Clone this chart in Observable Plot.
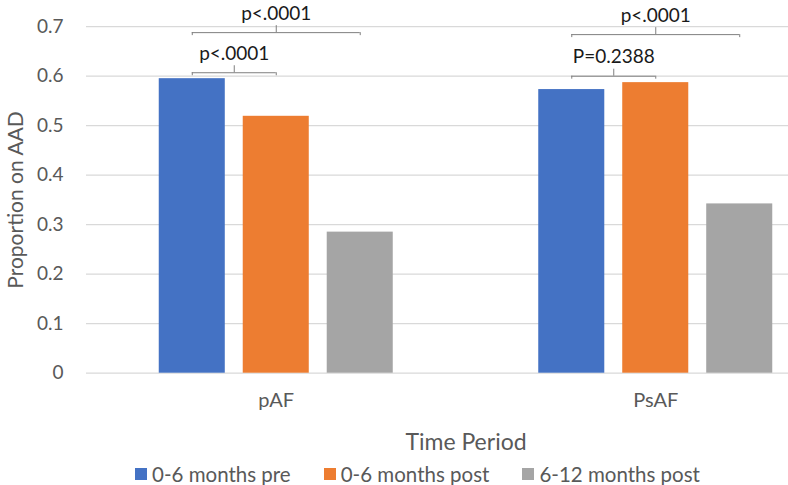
<!DOCTYPE html>
<html><head><meta charset="utf-8">
<script src="https://cdn.jsdelivr.net/npm/d3@7"></script>
<script src="https://cdn.jsdelivr.net/npm/@observablehq/plot@0.6"></script>
<style>
html,body{margin:0;padding:0;background:#fff;overflow:hidden;}
body{width:788px;height:485px;font-family:Lato,sans-serif;}
#legend{display:flex;align-items:center;height:38px;padding-left:135px;font-size:20.5px;color:#595959;}
#legend .item{display:flex;align-items:center;margin-right:33px;}
#legend .sw{width:12px;height:12px;margin-right:5px;}
</style></head><body>
<div id="chart"></div>
<div id="legend"></div>
<script>
const categories = ["pAF", "PsAF"];
const series = ["0-6 months pre", "0-6 months post", "6-12 months post"];
const valuesPre = [0.595, 0.573];
const valuesPost6 = [0.519, 0.587];
const valuesPost12 = [0.285, 0.342];
const yTicks = [0, 0.1, 0.2, 0.3, 0.4, 0.5, 0.6, 0.7];
const colors = ["#4472C4", "#ED7D31", "#A5A5A5"];
const bracketCategory = ["pAF", "pAF", "PsAF", "PsAF"];
const bracketFrom = ["0-6 months pre", "0-6 months pre", "0-6 months pre", "0-6 months pre"];
const bracketTo = ["0-6 months post", "6-12 months post", "0-6 months post", "6-12 months post"];
const bracketLevel = [0.607, 0.688, 0.600, 0.684];
const bracketLabel = ["p<.0001", "p<.0001", "P=0.2388", "p<.0001"];

const seriesValues = [valuesPre, valuesPost6, valuesPost12];
// bar layout within each category (in category units)
const step = 0.2213, halfW = 0.087;
const pos = (cat, ser) => categories.indexOf(cat) + (series.indexOf(ser) - 1) * step;

const rows = categories.flatMap((c, i) => series.map((s, j) => ({category: c, series: s, value: seriesValues[j][i]})));
const brackets = bracketCategory.map((c, i) => ({category: c, from: bracketFrom[i], to: bracketTo[i], level: bracketLevel[i], label: bracketLabel[i]}));
const ends = brackets.flatMap(b => [{category: b.category, ser: b.from, level: b.level}, {category: b.category, ser: b.to, level: b.level}]);
const mid = b => (pos(b.category, b.from) + pos(b.category, b.to)) / 2;

const chart = Plot.plot({
  width: 788, height: 455,
  marginLeft: 86, marginRight: -57, marginTop: 26.2, marginBottom: 82.3,
  style: {fontFamily: "Lato, sans-serif", fontSize: "19px", color: "#595959", background: "white"},
  x: {domain: [-0.5, 1.5], label: null, axis: null},
  y: {domain: [0, 0.7], label: null, axis: null},
  color: {domain: series, range: colors},
  marks: [
    Plot.ruleY(yTicks, {stroke: "#d9d9d9", strokeWidth: 1.3}),
    Plot.axisY(yTicks, {tickFormat: d => String(d), tickSize: 0, tickPadding: 23, fontSize: 19, label: null}),
    Plot.axisY([], {label: "Proportion on AAD", labelAnchor: "center", labelOffset: 78, labelArrow: "none", fontSize: 21}),
    Plot.axisX(categories.map((_, i) => i), {tickFormat: i => categories[i], tickSize: 0, tickPadding: 20, fontSize: 20, label: null}),
    Plot.axisX([], {label: "Time Period", labelAnchor: "center", labelOffset: 77, labelArrow: "none", fontSize: 23}),
    Plot.rectY(rows, {x1: d => pos(d.category, d.series) - halfW, x2: d => pos(d.category, d.series) + halfW, y: "value", fill: "series"}),
    Plot.ruleY(brackets, {x1: d => pos(d.category, d.from), x2: d => pos(d.category, d.to), y: "level", stroke: "#7f7f7f", strokeWidth: 1}),
    Plot.ruleX(ends, {x: d => pos(d.category, d.ser), y1: "level", y2: "level", insetBottom: -3, stroke: "#7f7f7f", strokeWidth: 1}),
    Plot.ruleX(brackets, {x: mid, y1: "level", y2: "level", insetTop: -7, stroke: "#7f7f7f", strokeWidth: 1}),
    Plot.text(brackets, {x: mid, y: "level", text: "label", dy: -13, lineAnchor: "bottom", fill: "#1a1a1a", fontSize: 19})
  ]
});
document.getElementById("chart").appendChild(chart);

const legend = d3.select("#legend");
series.forEach((s, i) => {
  const item = legend.append("div").attr("class", "item");
  item.append("div").attr("class", "sw").style("background", colors[i]);
  item.append("span").text(s);
});
</script>
</body></html>
